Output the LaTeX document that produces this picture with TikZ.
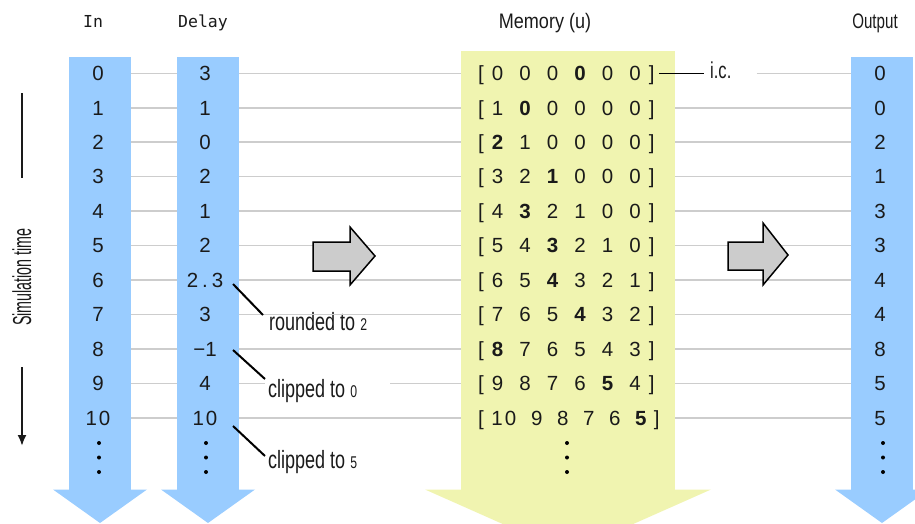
\documentclass[tikz,border=0pt]{standalone}
\usepackage{fontspec}
\setmainfont{Liberation Sans}
\newfontfamily\narrowfont[FakeStretch=0.72]{Liberation Sans}
\newfontfamily\midfont[FakeStretch=0.86]{Liberation Sans}
\newfontfamily\vnarrowfont[FakeStretch=0.55]{Liberation Sans}
\newfontfamily\monofont{DejaVu Sans Mono}
\usetikzlibrary{arrows.meta}
\definecolor{colblue}{HTML}{99CCFF}
\definecolor{colyellow}{HTML}{F0F4B0}
\definecolor{gridgray}{HTML}{CDCDCD}
\definecolor{arrowgray}{HTML}{CCCCCC}
\definecolor{ink}{HTML}{1A1A1A}
\newcommand{\memrow}[6]{[\makebox[27.5pt]{#1}\makebox[27.5pt]{#2}\makebox[27.5pt]{#3}\makebox[27.5pt]{#4}\makebox[27.5pt]{#5}\makebox[27.5pt]{#6}]}
\newcommand{\ry}[1]{73.3+34.45*#1}
\newcommand{\smalldig}[1]{{\fontsize{17}{20}\selectfont #1}}
\begin{document}
\begin{tikzpicture}[x=1pt,y=-1pt,
  num/.style={inner sep=0pt, anchor=base, font=\fontsize{20.5}{24}\selectfont, text=ink},
  memtext/.style={inner sep=0pt, anchor=base west, font=\fontsize{20.5}{24}\selectfont, text=ink},
  hdrmono/.style={inner sep=0pt, anchor=base, font=\monofont\fontsize{16.5}{20}\selectfont, text=ink},
  hdr/.style={inner sep=0pt, anchor=base, font=\narrowfont\fontsize{21}{24}\selectfont, text=ink},
  lbl/.style={inner sep=0pt, anchor=base west, font=\narrowfont\fontsize{25}{28}\selectfont, text=ink},
  gridline/.style={draw=gridgray, line width=1.5pt},
  pointer/.style={draw=black, line width=2pt},
  icline/.style={draw=black, line width=1.5pt},
  colbody/.style={fill=colblue, draw=none, inner sep=0pt, outer sep=0pt, minimum width=62pt, anchor=north west},
  bigarrow/.style={fill=arrowgray, draw=black, line width=1.5pt, line join=miter},
  axisline/.style={draw=ink, line width=2pt},
  vdot/.style={fill=black}
]
\useasboundingbox (0,0) rectangle (915,523);
\clip (0,0) rectangle (915,523);

% row coordinates
\foreach \i in {0,...,10}{
  \coordinate (row\i) at (0,{\ry{\i}});
}

% column bodies
\node[colbody, minimum height=433pt] (cin) at (69,57) {};
\node[colbody, minimum height=433pt] (cd) at (177,57) {};
\node[colbody, fill=colyellow, minimum width=214pt, minimum height=439pt] (cm) at (461,51) {};
\node[colbody, minimum height=433pt] (co) at (851,57) {};

% column arrow heads
\fill[colblue] ([shift={(-16pt,0.5pt)}]cin.south west) -- ([shift={(16pt,0.5pt)}]cin.south east) -- ([yshift=-33pt]cin.south) -- cycle;
\fill[colblue] ([shift={(-16pt,0.5pt)}]cd.south west) -- ([shift={(16pt,0.5pt)}]cd.south east) -- ([yshift=-33pt]cd.south) -- cycle;
\fill[colyellow] ([shift={(-36pt,0.5pt)}]cm.south west) -- ([shift={(36pt,0.5pt)}]cm.south east) -- ([yshift=-63pt]cm.south) -- cycle;
\fill[colblue] ([shift={(-16pt,0.5pt)}]co.south west) -- ([shift={(16pt,0.5pt)}]co.south east) -- ([yshift=-33pt]co.south) -- cycle;

% headers
\node[hdrmono] (hin) at (93,27) {In};
\node[hdrmono] (hdelay) at (203,27) {Delay};
\node[hdr, font=\midfont\fontsize{21}{24}\selectfont] (hmem) at (545,28) {Memory (u)};
\node[hdr] (hout) at (875,28) {Output};

% In values
\foreach \v [count=\i from 0] in {0,1,2,3,4,5,6,7,8,9,{1\kern2pt0}}{
  \node[num] (in\i) at (98,{\ry{\i}+7.3}) {\v};
}
% Delay values
\foreach \v [count=\i from 0] in {3,1,0,2,1,2,{2\hspace{4pt}.\hspace{4pt}3},3,{−1},4,{1\kern2pt0}}{
  \node[num] (d\i) at (205,{\ry{\i}+7.3}) {\v};
}
% Output values
\foreach \v [count=\i from 0] in {0,0,2,1,3,3,4,4,8,5,5}{
  \node[num] (o\i) at (880,{\ry{\i}+7.3}) {\v};
}
% Memory rows
\node[memtext] (m0) at (478,{\ry{0}+7.3}) {\memrow{0}{0}{0}{\textbf{0}}{0}{0}};
\node[memtext] (m1) at (478,{\ry{1}+7.3}) {\memrow{1}{\textbf{0}}{0}{0}{0}{0}};
\node[memtext] (m2) at (478,{\ry{2}+7.3}) {\memrow{\textbf{2}}{1}{0}{0}{0}{0}};
\node[memtext] (m3) at (478,{\ry{3}+7.3}) {\memrow{3}{2}{\textbf{1}}{0}{0}{0}};
\node[memtext] (m4) at (478,{\ry{4}+7.3}) {\memrow{4}{\textbf{3}}{2}{1}{0}{0}};
\node[memtext] (m5) at (478,{\ry{5}+7.3}) {\memrow{5}{4}{\textbf{3}}{2}{1}{0}};
\node[memtext] (m6) at (478,{\ry{6}+7.3}) {\memrow{6}{5}{\textbf{4}}{3}{2}{1}};
\node[memtext] (m7) at (478,{\ry{7}+7.3}) {\memrow{7}{6}{5}{\textbf{4}}{3}{2}};
\node[memtext] (m8) at (478,{\ry{8}+7.3}) {\memrow{\textbf{8}}{7}{6}{5}{4}{3}};
\node[memtext] (m9) at (478,{\ry{9}+7.3}) {\memrow{9}{8}{7}{6}{\textbf{5}}{4}};
\node[memtext] (m10) at (478,{\ry{10}+7.3}) {[\makebox[40pt]{1\kern2pt0}\makebox[26pt]{9}\makebox[26pt]{8}\makebox[26pt]{7}\makebox[26pt]{6}\makebox[26pt]{\textbf{5}}]};

% labels
\node[lbl] (r2) at (269,330) {rounded to \smalldig{2}};
\node[lbl] (c0) at (268,397) {clipped to \smalldig{0}};
\node[lbl] (c5) at (268,468) {clipped to \smalldig{5}};
\node[lbl, font=\narrowfont\fontsize{23}{26}\selectfont] (ic) at (710,78) {i.c.};

% grid lines
\foreach \i in {0,...,10}{
  \draw[gridline] (cin.east |- row\i) -- (cd.west |- row\i);
}
\foreach \i in {0,...,8,10}{
  \draw[gridline] (cd.east |- row\i) -- (cm.west |- row\i);
}
\path (cd.east |- row9) ++(26pt,0) coordinate (g9a);
\path (c0.east |- row9) ++(33pt,0) coordinate (g9b);
\draw[gridline] (cd.east |- row9) -- (g9a);
\draw[gridline] (g9b) -- (cm.west |- row9);
\foreach \i in {1,...,10}{
  \draw[gridline] (cm.east |- row\i) -- (co.west |- row\i);
}
\path (m0.east |- row0) ++(4pt,0) coordinate (ics);
\path (ic.west |- row0) ++(-6pt,0) coordinate (ice);
\path (ic.east |- row0) ++(25pt,0) coordinate (icg);
\draw[icline] (ics) -- (ice);
\draw[gridline] (icg) -- (co.west |- row0);

% pointers
\coordinate (p1s) at (233,284);
\coordinate (p1e) at (263,315);
\coordinate (p2s) at (233,350);
\coordinate (p2e) at (265,379);
\coordinate (p3s) at (233,426);
\coordinate (p3e) at (265,456);
\draw[pointer] (p1s) -- (p1e);
\draw[pointer] (p2s) -- (p2e);
\draw[pointer] (p3s) -- (p3e);

% vertical dots
\foreach \x in {99,206,567,883}{
  \foreach \y in {443,457.5,472}{
    \fill[vdot] (\x,\y) circle (2pt);
  }
}

% big gray arrows
\draw[bigarrow] (313,242) -- (350,242) -- (350,227) -- (375,256) -- (350,285) -- (350,271) -- (313,271) -- cycle;
\draw[bigarrow] (728,242) -- (763,242) -- (763,223) -- (788,255) -- (763,285) -- (763,270) -- (728,270) -- cycle;

% simulation time axis
\node[inner sep=0pt, anchor=base, rotate=90, font=\vnarrowfont\fontsize{26}{28}\selectfont, text=ink] (simtime) at (31,277) {Simulation time};
\coordinate (ax1) at (22,93);
\coordinate (ax2) at (22,178);
\coordinate (ax3) at (22,367);
\coordinate (ax4) at (22,446);
\draw[axisline] (ax1) -- (ax2);
\draw[axisline, -{Latex[length=11pt,width=9pt]}] (ax3) -- (ax4);
\end{tikzpicture}
\end{document}
